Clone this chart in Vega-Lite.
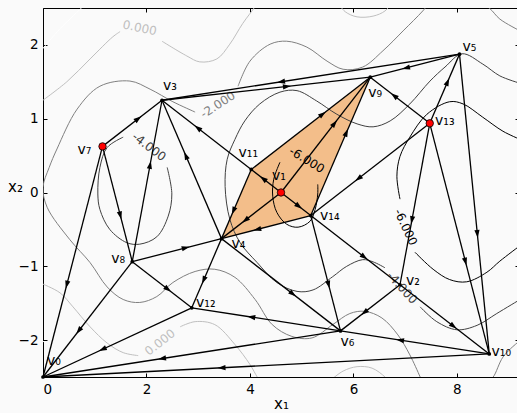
{
  "$schema": "https://vega.github.io/schema/vega-lite/v6.json",
  "width": 476,
  "height": 369,
  "autosize": {"type": "none"},
  "padding": {"left": 43, "top": 8, "right": 0, "bottom": 36},
  "background": "#fafafa",
  "config": {
    "view": {"stroke": "#000000", "strokeWidth": 1, "fill": "#fafafa"},
    "font": "DejaVu Sans",
    "axis": {
      "grid": false, "domain": false, "tickColor": "#000000", "tickSize": -4, "tickWidth": 1,
      "labelColor": "#000000", "labelFont": "DejaVu Sans", "labelFontSize": 13.5, "labelPadding": 9,
      "titleFont": "DejaVu Sans", "titleFontWeight": "normal", "titleColor": "#000000", "titleFontSize": 15
    }
  },
  "datasets": {
    "nodes": [
      {"id": "v0", "x": 0, "y": -2.5, "name": "v₀", "kind": "plain"},
      {"id": "v1", "x": 4.6, "y": 0, "name": "v₁", "kind": "marked"},
      {"id": "v2", "x": 6.9, "y": -1.25, "name": "v₂", "kind": "plain"},
      {"id": "v3", "x": 2.3, "y": 1.25, "name": "v₃", "kind": "plain"},
      {"id": "v4", "x": 3.45, "y": -0.625, "name": "v₄", "kind": "plain"},
      {"id": "v5", "x": 8.05, "y": 1.875, "name": "v₅", "kind": "plain"},
      {"id": "v6", "x": 5.75, "y": -1.875, "name": "v₆", "kind": "plain"},
      {"id": "v7", "x": 1.15, "y": 0.625, "name": "v₇", "kind": "marked"},
      {"id": "v8", "x": 1.725, "y": -0.9375, "name": "v₈", "kind": "plain"},
      {"id": "v9", "x": 6.325, "y": 1.5625, "name": "v₉", "kind": "plain"},
      {"id": "v10", "x": 8.625, "y": -2.1875, "name": "v₁₀", "kind": "plain"},
      {"id": "v11", "x": 4.025, "y": 0.3125, "name": "v₁₁", "kind": "plain"},
      {"id": "v12", "x": 2.875, "y": -1.5625, "name": "v₁₂", "kind": "plain"},
      {"id": "v13", "x": 7.475, "y": 0.9375, "name": "v₁₃", "kind": "marked"},
      {"id": "v14", "x": 5.175, "y": -0.3125, "name": "v₁₄", "kind": "plain"}
    ],
    "edges": [
      {"s": "v7", "t": "v3"}, {"s": "v8", "t": "v3"}, {"s": "v4", "t": "v3"}, {"s": "v11", "t": "v3"},
      {"s": "v5", "t": "v3"}, {"s": "v3", "t": "v9"}, {"s": "v5", "t": "v9"}, {"s": "v13", "t": "v9"},
      {"s": "v13", "t": "v5"}, {"s": "v5", "t": "v10"}, {"s": "v13", "t": "v10"}, {"s": "v13", "t": "v2"},
      {"s": "v13", "t": "v14"}, {"s": "v14", "t": "v2"}, {"s": "v2", "t": "v10"}, {"s": "v2", "t": "v6"},
      {"s": "v10", "t": "v6"}, {"s": "v10", "t": "v0"}, {"s": "v6", "t": "v0"}, {"s": "v12", "t": "v0"},
      {"s": "v8", "t": "v0"}, {"s": "v7", "t": "v0"}, {"s": "v7", "t": "v8"}, {"s": "v8", "t": "v4"},
      {"s": "v8", "t": "v12"}, {"s": "v4", "t": "v12"}, {"s": "v6", "t": "v12"}, {"s": "v4", "t": "v6"},
      {"s": "v14", "t": "v6"}, {"s": "v1", "t": "v4"}, {"s": "v14", "t": "v4"}, {"s": "v1", "t": "v11"},
      {"s": "v1", "t": "v14"}, {"s": "v11", "t": "v9"}, {"s": "v1", "t": "v9"}, {"s": "v14", "t": "v9"},
      {"s": "v11", "t": "v4"}
    ],
    "region": [
      {"id": "v4", "k": 0}, {"id": "v11", "k": 1}, {"id": "v9", "k": 2}, {"id": "v14", "k": 3}
    ],
    "clab": [
      {"k": "a", "text": "0.000", "lv": 0, "x": 1.87, "y": 2.23},
      {"k": "b", "text": "0.000", "lv": 0, "x": 2.26, "y": -2.03},
      {"k": "c", "text": "-2.000", "lv": -2, "x": 3.38, "y": 1.19},
      {"k": "d", "text": "-4.000", "lv": -4, "x": 2.05, "y": 0.62},
      {"k": "e", "text": "-4.000", "lv": -4, "x": 6.94, "y": -1.29},
      {"k": "f", "text": "-6.000", "lv": -6, "x": 5.1, "y": 0.44},
      {"k": "g", "text": "-6.000", "lv": -6, "x": 7.01, "y": -0.47}
    ],
    "contours": [
      {"c": "p2a", "lv": 2, "i": 0, "x": -0.04, "y": 1.92},
      {"c": "p2a", "lv": 2, "i": 1, "x": 0.33, "y": 2.22},
      {"c": "p2a", "lv": 2, "i": 2, "x": 0.52, "y": 2.35},
      {"c": "p2a", "lv": 2, "i": 3, "x": 0.77, "y": 2.52},
      {"c": "p2a", "lv": 2, "i": 4, "x": 0.85, "y": 2.58},

      {"c": "p2b", "lv": 2, "i": 0, "x": -0.04, "y": -2.0},
      {"c": "p2b", "lv": 2, "i": 1, "x": 0.27, "y": -2.13},
      {"c": "p2b", "lv": 2, "i": 2, "x": 0.58, "y": -2.29},
      {"c": "p2b", "lv": 2, "i": 3, "x": 0.75, "y": -2.5},
      {"c": "p2b", "lv": 2, "i": 4, "x": 0.79, "y": -2.55},

      {"c": "z0a", "lv": 0, "i": 0, "x": -0.04, "y": 1.23},
      {"c": "z0a", "lv": 0, "i": 1, "x": 0.46, "y": 1.5},
      {"c": "z0a", "lv": 0, "i": 2, "x": 0.91, "y": 1.81},
      {"c": "z0a", "lv": 0, "i": 3, "x": 1.35, "y": 2.11},
      {"c": "z0a", "lv": 0, "i": 4, "x": 1.49, "y": 2.18},

      {"c": "z0b", "lv": 0, "i": 0, "x": 2.3, "y": 2.05},
      {"c": "z0b", "lv": 0, "i": 1, "x": 2.78, "y": 1.85},
      {"c": "z0b", "lv": 0, "i": 2, "x": 3.03, "y": 1.77},
      {"c": "z0b", "lv": 0, "i": 3, "x": 3.36, "y": 1.81},
      {"c": "z0b", "lv": 0, "i": 4, "x": 3.61, "y": 2.01},
      {"c": "z0b", "lv": 0, "i": 5, "x": 3.86, "y": 2.29},
      {"c": "z0b", "lv": 0, "i": 6, "x": 4.1, "y": 2.52},
      {"c": "z0b", "lv": 0, "i": 7, "x": 4.15, "y": 2.58},

      {"c": "z0c", "lv": 0, "i": 0, "x": 5.7, "y": 2.57},
      {"c": "z0c", "lv": 0, "i": 1, "x": 5.84, "y": 2.45},
      {"c": "z0c", "lv": 0, "i": 2, "x": 6.07, "y": 2.38},
      {"c": "z0c", "lv": 0, "i": 3, "x": 6.38, "y": 2.39},
      {"c": "z0c", "lv": 0, "i": 4, "x": 6.61, "y": 2.46},
      {"c": "z0c", "lv": 0, "i": 5, "x": 6.74, "y": 2.57},

      {"c": "z0d", "lv": 0, "i": 0, "x": -0.04, "y": -1.23},
      {"c": "z0d", "lv": 0, "i": 1, "x": 0.33, "y": -1.36},
      {"c": "z0d", "lv": 0, "i": 2, "x": 0.58, "y": -1.55},
      {"c": "z0d", "lv": 0, "i": 3, "x": 0.91, "y": -1.82},
      {"c": "z0d", "lv": 0, "i": 4, "x": 1.24, "y": -2.04},
      {"c": "z0d", "lv": 0, "i": 5, "x": 1.55, "y": -2.17},
      {"c": "z0d", "lv": 0, "i": 6, "x": 1.84, "y": -2.21},

      {"c": "z0e", "lv": 0, "i": 0, "x": 2.65, "y": -1.82},
      {"c": "z0e", "lv": 0, "i": 1, "x": 2.94, "y": -1.75},
      {"c": "z0e", "lv": 0, "i": 2, "x": 3.32, "y": -1.79},
      {"c": "z0e", "lv": 0, "i": 3, "x": 3.71, "y": -2.06},
      {"c": "z0e", "lv": 0, "i": 4, "x": 4.0, "y": -2.33},
      {"c": "z0e", "lv": 0, "i": 5, "x": 4.14, "y": -2.5},
      {"c": "z0e", "lv": 0, "i": 6, "x": 4.19, "y": -2.55},

      {"c": "z0f", "lv": 0, "i": 0, "x": 5.55, "y": -2.55},
      {"c": "z0f", "lv": 0, "i": 1, "x": 5.8, "y": -2.42},
      {"c": "z0f", "lv": 0, "i": 2, "x": 6.07, "y": -2.36},
      {"c": "z0f", "lv": 0, "i": 3, "x": 6.36, "y": -2.38},
      {"c": "z0f", "lv": 0, "i": 4, "x": 6.61, "y": -2.5},
      {"c": "z0f", "lv": 0, "i": 5, "x": 6.67, "y": -2.55},

      {"c": "m2a", "lv": -2, "i": 0, "x": 2.94, "y": 1.09},
      {"c": "m2a", "lv": -2, "i": 1, "x": 2.51, "y": 1.23},
      {"c": "m2a", "lv": -2, "i": 2, "x": 2.07, "y": 1.4},
      {"c": "m2a", "lv": -2, "i": 3, "x": 1.68, "y": 1.51},
      {"c": "m2a", "lv": -2, "i": 4, "x": 1.1, "y": 1.44},
      {"c": "m2a", "lv": -2, "i": 5, "x": 0.66, "y": 1.13},
      {"c": "m2a", "lv": -2, "i": 6, "x": 0.27, "y": 0.59},
      {"c": "m2a", "lv": -2, "i": 7, "x": 0.12, "y": 0.34},
      {"c": "m2a", "lv": -2, "i": 8, "x": 0.0, "y": 0.07},
      {"c": "m2a", "lv": -2, "i": 9, "x": 0.08, "y": -0.2},
      {"c": "m2a", "lv": -2, "i": 10, "x": 0.52, "y": -0.64},
      {"c": "m2a", "lv": -2, "i": 11, "x": 0.91, "y": -0.95},
      {"c": "m2a", "lv": -2, "i": 12, "x": 1.24, "y": -1.28},
      {"c": "m2a", "lv": -2, "i": 13, "x": 1.55, "y": -1.45},
      {"c": "m2a", "lv": -2, "i": 14, "x": 1.87, "y": -1.49},
      {"c": "m2a", "lv": -2, "i": 15, "x": 2.2, "y": -1.41},
      {"c": "m2a", "lv": -2, "i": 16, "x": 2.51, "y": -1.22},
      {"c": "m2a", "lv": -2, "i": 17, "x": 2.94, "y": -1.07},
      {"c": "m2a", "lv": -2, "i": 18, "x": 3.32, "y": -1.04},
      {"c": "m2a", "lv": -2, "i": 19, "x": 3.71, "y": -1.15},
      {"c": "m2a", "lv": -2, "i": 20, "x": 4.1, "y": -1.45},
      {"c": "m2a", "lv": -2, "i": 21, "x": 4.43, "y": -1.79},
      {"c": "m2a", "lv": -2, "i": 22, "x": 4.81, "y": -1.95},
      {"c": "m2a", "lv": -2, "i": 23, "x": 5.2, "y": -1.97},
      {"c": "m2a", "lv": -2, "i": 24, "x": 5.6, "y": -1.79},
      {"c": "m2a", "lv": -2, "i": 25, "x": 5.93, "y": -1.64},
      {"c": "m2a", "lv": -2, "i": 26, "x": 6.22, "y": -1.61},
      {"c": "m2a", "lv": -2, "i": 27, "x": 6.55, "y": -1.7},
      {"c": "m2a", "lv": -2, "i": 28, "x": 6.86, "y": -1.93},
      {"c": "m2a", "lv": -2, "i": 29, "x": 7.09, "y": -2.2},
      {"c": "m2a", "lv": -2, "i": 30, "x": 7.29, "y": -2.5},
      {"c": "m2a", "lv": -2, "i": 31, "x": 7.34, "y": -2.58},

      {"c": "m2b", "lv": -2, "i": 0, "x": 3.77, "y": 1.44},
      {"c": "m2b", "lv": -2, "i": 1, "x": 4.0, "y": 1.78},
      {"c": "m2b", "lv": -2, "i": 2, "x": 4.39, "y": 2.01},
      {"c": "m2b", "lv": -2, "i": 3, "x": 4.71, "y": 2.05},
      {"c": "m2b", "lv": -2, "i": 4, "x": 5.1, "y": 1.97},
      {"c": "m2b", "lv": -2, "i": 5, "x": 5.49, "y": 1.78},
      {"c": "m2b", "lv": -2, "i": 6, "x": 5.8, "y": 1.67},
      {"c": "m2b", "lv": -2, "i": 7, "x": 6.18, "y": 1.7},
      {"c": "m2b", "lv": -2, "i": 8, "x": 6.57, "y": 1.92},
      {"c": "m2b", "lv": -2, "i": 9, "x": 6.96, "y": 2.19},
      {"c": "m2b", "lv": -2, "i": 10, "x": 7.34, "y": 2.46},
      {"c": "m2b", "lv": -2, "i": 11, "x": 7.48, "y": 2.58},

      {"c": "m2c", "lv": -2, "i": 0, "x": 8.44, "y": 2.58},
      {"c": "m2c", "lv": -2, "i": 1, "x": 8.64, "y": 2.49},
      {"c": "m2c", "lv": -2, "i": 2, "x": 8.83, "y": 2.35},
      {"c": "m2c", "lv": -2, "i": 3, "x": 9.22, "y": 2.19},

      {"c": "m2d", "lv": -2, "i": 0, "x": 8.6, "y": -2.55},
      {"c": "m2d", "lv": -2, "i": 1, "x": 8.7, "y": -2.5},
      {"c": "m2d", "lv": -2, "i": 2, "x": 8.89, "y": -2.23},
      {"c": "m2d", "lv": -2, "i": 3, "x": 9.16, "y": -2.04},
      {"c": "m2d", "lv": -2, "i": 4, "x": 9.22, "y": -2.01},

      {"c": "m4a", "lv": -4, "i": 0, "x": 9.22, "y": 1.48},
      {"c": "m4a", "lv": -4, "i": 1, "x": 8.83, "y": 1.58},
      {"c": "m4a", "lv": -4, "i": 2, "x": 8.5, "y": 1.74},
      {"c": "m4a", "lv": -4, "i": 3, "x": 8.1, "y": 1.88},
      {"c": "m4a", "lv": -4, "i": 4, "x": 7.77, "y": 1.7},
      {"c": "m4a", "lv": -4, "i": 5, "x": 7.48, "y": 1.51},
      {"c": "m4a", "lv": -4, "i": 6, "x": 7.09, "y": 1.2},
      {"c": "m4a", "lv": -4, "i": 7, "x": 6.71, "y": 0.97},
      {"c": "m4a", "lv": -4, "i": 8, "x": 6.38, "y": 0.89},
      {"c": "m4a", "lv": -4, "i": 9, "x": 6.07, "y": 0.93},
      {"c": "m4a", "lv": -4, "i": 10, "x": 5.68, "y": 1.06},
      {"c": "m4a", "lv": -4, "i": 11, "x": 5.29, "y": 1.24},
      {"c": "m4a", "lv": -4, "i": 12, "x": 4.91, "y": 1.38},
      {"c": "m4a", "lv": -4, "i": 13, "x": 4.58, "y": 1.36},
      {"c": "m4a", "lv": -4, "i": 14, "x": 4.19, "y": 1.2},
      {"c": "m4a", "lv": -4, "i": 15, "x": 3.9, "y": 0.97},
      {"c": "m4a", "lv": -4, "i": 16, "x": 3.71, "y": 0.72},
      {"c": "m4a", "lv": -4, "i": 17, "x": 3.56, "y": 0.45},
      {"c": "m4a", "lv": -4, "i": 18, "x": 3.52, "y": 0.08},
      {"c": "m4a", "lv": -4, "i": 19, "x": 3.61, "y": -0.36},
      {"c": "m4a", "lv": -4, "i": 20, "x": 3.81, "y": -0.68},
      {"c": "m4a", "lv": -4, "i": 21, "x": 4.14, "y": -0.95},
      {"c": "m4a", "lv": -4, "i": 22, "x": 4.52, "y": -1.22},
      {"c": "m4a", "lv": -4, "i": 23, "x": 4.91, "y": -1.34},
      {"c": "m4a", "lv": -4, "i": 24, "x": 5.22, "y": -1.32},
      {"c": "m4a", "lv": -4, "i": 25, "x": 5.6, "y": -1.14},
      {"c": "m4a", "lv": -4, "i": 26, "x": 5.87, "y": -1.0},
      {"c": "m4a", "lv": -4, "i": 27, "x": 6.18, "y": -0.91},
      {"c": "m4a", "lv": -4, "i": 28, "x": 6.38, "y": -0.94},
      {"c": "m4a", "lv": -4, "i": 29, "x": 6.61, "y": -1.02},

      {"c": "m4b", "lv": -4, "i": 0, "x": 7.29, "y": -1.55},
      {"c": "m4b", "lv": -4, "i": 1, "x": 7.61, "y": -1.75},
      {"c": "m4b", "lv": -4, "i": 2, "x": 8.0, "y": -1.86},
      {"c": "m4b", "lv": -4, "i": 3, "x": 8.39, "y": -1.8},
      {"c": "m4b", "lv": -4, "i": 4, "x": 8.77, "y": -1.64},
      {"c": "m4b", "lv": -4, "i": 5, "x": 9.22, "y": -1.45},

      {"c": "m4c", "lv": -4, "i": 0, "x": 2.4, "y": 0.34},
      {"c": "m4c", "lv": -4, "i": 1, "x": 2.49, "y": -0.02},
      {"c": "m4c", "lv": -4, "i": 2, "x": 2.42, "y": -0.32},
      {"c": "m4c", "lv": -4, "i": 3, "x": 2.2, "y": -0.6},
      {"c": "m4c", "lv": -4, "i": 4, "x": 1.87, "y": -0.7},
      {"c": "m4c", "lv": -4, "i": 5, "x": 1.62, "y": -0.68},
      {"c": "m4c", "lv": -4, "i": 6, "x": 1.29, "y": -0.5},
      {"c": "m4c", "lv": -4, "i": 7, "x": 1.1, "y": -0.23},
      {"c": "m4c", "lv": -4, "i": 8, "x": 1.06, "y": -0.02},
      {"c": "m4c", "lv": -4, "i": 9, "x": 1.1, "y": 0.34},
      {"c": "m4c", "lv": -4, "i": 10, "x": 1.24, "y": 0.61},
      {"c": "m4c", "lv": -4, "i": 11, "x": 1.55, "y": 0.75},

      {"c": "m6a", "lv": -6, "i": 0, "x": 4.58, "y": 0.41},
      {"c": "m6a", "lv": -6, "i": 1, "x": 4.46, "y": 0.18},
      {"c": "m6a", "lv": -6, "i": 2, "x": 4.44, "y": -0.05},
      {"c": "m6a", "lv": -6, "i": 3, "x": 4.52, "y": -0.27},
      {"c": "m6a", "lv": -6, "i": 4, "x": 4.71, "y": -0.43},
      {"c": "m6a", "lv": -6, "i": 5, "x": 4.93, "y": -0.47},
      {"c": "m6a", "lv": -6, "i": 6, "x": 5.16, "y": -0.39},
      {"c": "m6a", "lv": -6, "i": 7, "x": 5.26, "y": -0.23},
      {"c": "m6a", "lv": -6, "i": 8, "x": 5.31, "y": -0.02},
      {"c": "m6a", "lv": -6, "i": 9, "x": 5.31, "y": 0.11},

      {"c": "m6b", "lv": -6, "i": 0, "x": 9.22, "y": 0.72},
      {"c": "m6b", "lv": -6, "i": 1, "x": 8.89, "y": 0.83},
      {"c": "m6b", "lv": -6, "i": 2, "x": 8.5, "y": 1.02},
      {"c": "m6b", "lv": -6, "i": 3, "x": 8.12, "y": 1.2},
      {"c": "m6b", "lv": -6, "i": 4, "x": 7.86, "y": 1.23},
      {"c": "m6b", "lv": -6, "i": 5, "x": 7.42, "y": 1.06},
      {"c": "m6b", "lv": -6, "i": 6, "x": 7.09, "y": 0.75},
      {"c": "m6b", "lv": -6, "i": 7, "x": 6.9, "y": 0.49},
      {"c": "m6b", "lv": -6, "i": 8, "x": 6.84, "y": 0.22},
      {"c": "m6b", "lv": -6, "i": 9, "x": 6.9, "y": -0.09},

      {"c": "m6c", "lv": -6, "i": 0, "x": 7.19, "y": -0.81},
      {"c": "m6c", "lv": -6, "i": 1, "x": 7.54, "y": -1.04},
      {"c": "m6c", "lv": -6, "i": 2, "x": 7.86, "y": -1.18},
      {"c": "m6c", "lv": -6, "i": 3, "x": 8.19, "y": -1.21},
      {"c": "m6c", "lv": -6, "i": 4, "x": 8.58, "y": -1.08},
      {"c": "m6c", "lv": -6, "i": 5, "x": 8.83, "y": -0.93},
      {"c": "m6c", "lv": -6, "i": 6, "x": 9.22, "y": -0.72}
    ]
  },
  "resolve": {"axis": {"x": "independent", "y": "independent"}},
  "layer": [
    {
      "data": {"name": "region"},
      "transform": [{"lookup": "id", "from": {"data": {"name": "nodes"}, "key": "id", "fields": ["x", "y"]}}],
      "mark": {"type": "line", "fill": "#f3be8a", "fillOpacity": 1, "strokeOpacity": 0, "interpolate": "linear-closed"},
      "encoding": {
        "x": {"field": "x", "type": "quantitative", "scale": {"domain": [0, 9.2], "nice": false, "zero": false},
              "axis": {"orient": "bottom", "values": [0, 2, 4, 6, 8], "title": "x₁", "titleY": 31, "titleBaseline": "alphabetic"}},
        "y": {"field": "y", "type": "quantitative", "scale": {"domain": [-2.5, 2.5], "nice": false, "zero": false},
              "axis": {"orient": "left", "values": [-2, -1, 0, 1, 2], "title": "x₂", "titleAngle": 0, "titleX": -28, "titleY": 183, "titleAlign": "center", "titleBaseline": "alphabetic"}},
        "order": {"field": "k", "type": "quantitative"}
      }
    },
    {
      "data": {"name": "contours"},
      "mark": {"type": "line", "strokeWidth": 1, "interpolate": "catmull-rom", "clip": true},
      "encoding": {
        "x": {"field": "x", "type": "quantitative", "scale": {"domain": [0, 9.2], "nice": false, "zero": false},
              "axis": {"orient": "top", "values": [0, 2, 4, 6, 8], "labels": false, "title": null}},
        "y": {"field": "y", "type": "quantitative", "scale": {"domain": [-2.5, 2.5], "nice": false, "zero": false},
              "axis": {"orient": "right", "values": [-2, -1, 0, 1, 2], "labels": false, "title": null}},
        "detail": {"field": "c"},
        "order": {"field": "i", "type": "quantitative"},
        "color": {"field": "lv", "type": "ordinal", "scale": {"domain": [-6, -4, -2, 0, 2], "range": ["#000000", "#404040", "#808080", "#bfbfbf", "#ffffff"]}, "legend": null}
      }
    },
    {
      "data": {"name": "clab"},
      "transform": [{"filter": "datum.k == 'a'"}],
      "mark": {"type": "text", "angle": 12, "fontSize": 12, "align": "center", "baseline": "middle"},
      "encoding": {
        "x": {"field": "x", "type": "quantitative", "scale": {"domain": [0, 9.2], "nice": false, "zero": false}, "axis": null},
        "y": {"field": "y", "type": "quantitative", "scale": {"domain": [-2.5, 2.5], "nice": false, "zero": false}, "axis": null},
        "text": {"field": "text"},
        "color": {"field": "lv", "type": "ordinal", "legend": null}
      }
    },
    {
      "data": {"name": "clab"},
      "transform": [{"filter": "datum.k == 'b'"}],
      "mark": {"type": "text", "angle": -38, "fontSize": 12, "align": "center", "baseline": "middle"},
      "encoding": {
        "x": {"field": "x", "type": "quantitative", "scale": {"domain": [0, 9.2], "nice": false, "zero": false}, "axis": null},
        "y": {"field": "y", "type": "quantitative", "scale": {"domain": [-2.5, 2.5], "nice": false, "zero": false}, "axis": null},
        "text": {"field": "text"},
        "color": {"field": "lv", "type": "ordinal", "legend": null}
      }
    },
    {
      "data": {"name": "clab"},
      "transform": [{"filter": "datum.k == 'c'"}],
      "mark": {"type": "text", "angle": -33, "fontSize": 12, "align": "center", "baseline": "middle"},
      "encoding": {
        "x": {"field": "x", "type": "quantitative", "scale": {"domain": [0, 9.2], "nice": false, "zero": false}, "axis": null},
        "y": {"field": "y", "type": "quantitative", "scale": {"domain": [-2.5, 2.5], "nice": false, "zero": false}, "axis": null},
        "text": {"field": "text"},
        "color": {"field": "lv", "type": "ordinal", "legend": null}
      }
    },
    {
      "data": {"name": "clab"},
      "transform": [{"filter": "datum.k == 'd'"}],
      "mark": {"type": "text", "angle": 37, "fontSize": 12, "align": "center", "baseline": "middle"},
      "encoding": {
        "x": {"field": "x", "type": "quantitative", "scale": {"domain": [0, 9.2], "nice": false, "zero": false}, "axis": null},
        "y": {"field": "y", "type": "quantitative", "scale": {"domain": [-2.5, 2.5], "nice": false, "zero": false}, "axis": null},
        "text": {"field": "text"},
        "color": {"field": "lv", "type": "ordinal", "legend": null}
      }
    },
    {
      "data": {"name": "clab"},
      "transform": [{"filter": "datum.k == 'e'"}],
      "mark": {"type": "text", "angle": 48, "fontSize": 12, "align": "center", "baseline": "middle"},
      "encoding": {
        "x": {"field": "x", "type": "quantitative", "scale": {"domain": [0, 9.2], "nice": false, "zero": false}, "axis": null},
        "y": {"field": "y", "type": "quantitative", "scale": {"domain": [-2.5, 2.5], "nice": false, "zero": false}, "axis": null},
        "text": {"field": "text"},
        "color": {"field": "lv", "type": "ordinal", "legend": null}
      }
    },
    {
      "data": {"name": "clab"},
      "transform": [{"filter": "datum.k == 'f'"}],
      "mark": {"type": "text", "angle": 32, "fontSize": 12, "align": "center", "baseline": "middle"},
      "encoding": {
        "x": {"field": "x", "type": "quantitative", "scale": {"domain": [0, 9.2], "nice": false, "zero": false}, "axis": null},
        "y": {"field": "y", "type": "quantitative", "scale": {"domain": [-2.5, 2.5], "nice": false, "zero": false}, "axis": null},
        "text": {"field": "text"},
        "color": {"field": "lv", "type": "ordinal", "legend": null}
      }
    },
    {
      "data": {"name": "clab"},
      "transform": [{"filter": "datum.k == 'g'"}],
      "mark": {"type": "text", "angle": 65, "fontSize": 12, "align": "center", "baseline": "middle"},
      "encoding": {
        "x": {"field": "x", "type": "quantitative", "scale": {"domain": [0, 9.2], "nice": false, "zero": false}, "axis": null},
        "y": {"field": "y", "type": "quantitative", "scale": {"domain": [-2.5, 2.5], "nice": false, "zero": false}, "axis": null},
        "text": {"field": "text"},
        "color": {"field": "lv", "type": "ordinal", "legend": null}
      }
    },
    {
      "data": {"name": "edges"},
      "transform": [
        {"lookup": "s", "from": {"data": {"name": "nodes"}, "key": "id", "fields": ["x", "y"]}, "as": ["sx", "sy"]},
        {"lookup": "t", "from": {"data": {"name": "nodes"}, "key": "id", "fields": ["x", "y"]}, "as": ["tx", "ty"]}
      ],
      "mark": {"type": "rule", "color": "#000000", "strokeWidth": 1.3},
      "encoding": {
        "x": {"field": "sx", "type": "quantitative", "scale": {"domain": [0, 9.2], "nice": false, "zero": false}, "axis": null},
        "y": {"field": "sy", "type": "quantitative", "scale": {"domain": [-2.5, 2.5], "nice": false, "zero": false}, "axis": null},
        "x2": {"field": "tx"},
        "y2": {"field": "ty"}
      }
    },
    {
      "data": {"name": "edges"},
      "transform": [
        {"lookup": "s", "from": {"data": {"name": "nodes"}, "key": "id", "fields": ["x", "y"]}, "as": ["sx", "sy"]},
        {"lookup": "t", "from": {"data": {"name": "nodes"}, "key": "id", "fields": ["x", "y"]}, "as": ["tx", "ty"]},
        {"calculate": "datum.sx + 0.6 * (datum.tx - datum.sx)", "as": "mx"},
        {"calculate": "datum.sy + 0.6 * (datum.ty - datum.sy)", "as": "my"},
        {"calculate": "atan2(-(datum.ty - datum.sy) * 73.8, (datum.tx - datum.sx) * 51.74) * 180 / PI", "as": "heading"}
      ],
      "mark": {"type": "point", "shape": "M1,0L-1,-0.65L-1,0.65Z", "filled": true, "color": "#000000", "size": 64, "opacity": 1},
      "encoding": {
        "x": {"field": "mx", "type": "quantitative", "scale": {"domain": [0, 9.2], "nice": false, "zero": false}, "axis": null},
        "y": {"field": "my", "type": "quantitative", "scale": {"domain": [-2.5, 2.5], "nice": false, "zero": false}, "axis": null},
        "angle": {"field": "heading", "type": "quantitative", "scale": null}
      }
    },
    {
      "data": {"name": "nodes"},
      "transform": [{"filter": "datum.kind == 'plain'"}],
      "mark": {"type": "point", "shape": "circle", "filled": true, "color": "#000000", "size": 14, "opacity": 1},
      "encoding": {
        "x": {"field": "x", "type": "quantitative", "scale": {"domain": [0, 9.2], "nice": false, "zero": false}, "axis": null},
        "y": {"field": "y", "type": "quantitative", "scale": {"domain": [-2.5, 2.5], "nice": false, "zero": false}, "axis": null}
      }
    },
    {
      "data": {"name": "nodes"},
      "transform": [{"filter": "datum.kind == 'marked'"}],
      "mark": {"type": "point", "shape": "circle", "filled": true, "fill": "#ff0000", "stroke": "#000000", "strokeWidth": 0.8, "size": 55, "opacity": 1},
      "encoding": {
        "x": {"field": "x", "type": "quantitative", "scale": {"domain": [0, 9.2], "nice": false, "zero": false}, "axis": null},
        "y": {"field": "y", "type": "quantitative", "scale": {"domain": [-2.5, 2.5], "nice": false, "zero": false}, "axis": null}
      }
    },
    {"data": {"name": "nodes"}, "transform": [{"filter": "datum.id == 'v0'"}], "mark": {"type": "text", "dx": 11, "dy": -16, "fontSize": 14, "align": "center", "baseline": "middle", "color": "#000000"},
     "encoding": {"x": {"field": "x", "type": "quantitative", "scale": {"domain": [0, 9.2], "nice": false, "zero": false}, "axis": null}, "y": {"field": "y", "type": "quantitative", "scale": {"domain": [-2.5, 2.5], "nice": false, "zero": false}, "axis": null}, "text": {"field": "name"}}},
    {"data": {"name": "nodes"}, "transform": [{"filter": "datum.id == 'v1'"}], "mark": {"type": "text", "dx": -2, "dy": -17, "fontSize": 14, "align": "center", "baseline": "middle", "color": "#000000"},
     "encoding": {"x": {"field": "x", "type": "quantitative", "scale": {"domain": [0, 9.2], "nice": false, "zero": false}, "axis": null}, "y": {"field": "y", "type": "quantitative", "scale": {"domain": [-2.5, 2.5], "nice": false, "zero": false}, "axis": null}, "text": {"field": "name"}}},
    {"data": {"name": "nodes"}, "transform": [{"filter": "datum.id == 'v2'"}], "mark": {"type": "text", "dx": 13, "dy": -4, "fontSize": 14, "align": "center", "baseline": "middle", "color": "#000000"},
     "encoding": {"x": {"field": "x", "type": "quantitative", "scale": {"domain": [0, 9.2], "nice": false, "zero": false}, "axis": null}, "y": {"field": "y", "type": "quantitative", "scale": {"domain": [-2.5, 2.5], "nice": false, "zero": false}, "axis": null}, "text": {"field": "name"}}},
    {"data": {"name": "nodes"}, "transform": [{"filter": "datum.id == 'v3'"}], "mark": {"type": "text", "dx": 8, "dy": -14, "fontSize": 14, "align": "center", "baseline": "middle", "color": "#000000"},
     "encoding": {"x": {"field": "x", "type": "quantitative", "scale": {"domain": [0, 9.2], "nice": false, "zero": false}, "axis": null}, "y": {"field": "y", "type": "quantitative", "scale": {"domain": [-2.5, 2.5], "nice": false, "zero": false}, "axis": null}, "text": {"field": "name"}}},
    {"data": {"name": "nodes"}, "transform": [{"filter": "datum.id == 'v4'"}], "mark": {"type": "text", "dx": 17, "dy": 5, "fontSize": 14, "align": "center", "baseline": "middle", "color": "#000000"},
     "encoding": {"x": {"field": "x", "type": "quantitative", "scale": {"domain": [0, 9.2], "nice": false, "zero": false}, "axis": null}, "y": {"field": "y", "type": "quantitative", "scale": {"domain": [-2.5, 2.5], "nice": false, "zero": false}, "axis": null}, "text": {"field": "name"}}},
    {"data": {"name": "nodes"}, "transform": [{"filter": "datum.id == 'v5'"}], "mark": {"type": "text", "dx": 10, "dy": -7, "fontSize": 14, "align": "center", "baseline": "middle", "color": "#000000"},
     "encoding": {"x": {"field": "x", "type": "quantitative", "scale": {"domain": [0, 9.2], "nice": false, "zero": false}, "axis": null}, "y": {"field": "y", "type": "quantitative", "scale": {"domain": [-2.5, 2.5], "nice": false, "zero": false}, "axis": null}, "text": {"field": "name"}}},
    {"data": {"name": "nodes"}, "transform": [{"filter": "datum.id == 'v6'"}], "mark": {"type": "text", "dx": 7, "dy": 11, "fontSize": 14, "align": "center", "baseline": "middle", "color": "#000000"},
     "encoding": {"x": {"field": "x", "type": "quantitative", "scale": {"domain": [0, 9.2], "nice": false, "zero": false}, "axis": null}, "y": {"field": "y", "type": "quantitative", "scale": {"domain": [-2.5, 2.5], "nice": false, "zero": false}, "axis": null}, "text": {"field": "name"}}},
    {"data": {"name": "nodes"}, "transform": [{"filter": "datum.id == 'v7'"}], "mark": {"type": "text", "dx": -18, "dy": 4, "fontSize": 14, "align": "center", "baseline": "middle", "color": "#000000"},
     "encoding": {"x": {"field": "x", "type": "quantitative", "scale": {"domain": [0, 9.2], "nice": false, "zero": false}, "axis": null}, "y": {"field": "y", "type": "quantitative", "scale": {"domain": [-2.5, 2.5], "nice": false, "zero": false}, "axis": null}, "text": {"field": "name"}}},
    {"data": {"name": "nodes"}, "transform": [{"filter": "datum.id == 'v8'"}], "mark": {"type": "text", "dx": -14, "dy": -3, "fontSize": 14, "align": "center", "baseline": "middle", "color": "#000000"},
     "encoding": {"x": {"field": "x", "type": "quantitative", "scale": {"domain": [0, 9.2], "nice": false, "zero": false}, "axis": null}, "y": {"field": "y", "type": "quantitative", "scale": {"domain": [-2.5, 2.5], "nice": false, "zero": false}, "axis": null}, "text": {"field": "name"}}},
    {"data": {"name": "nodes"}, "transform": [{"filter": "datum.id == 'v9'"}], "mark": {"type": "text", "dx": 5, "dy": 16, "fontSize": 14, "align": "center", "baseline": "middle", "color": "#000000"},
     "encoding": {"x": {"field": "x", "type": "quantitative", "scale": {"domain": [0, 9.2], "nice": false, "zero": false}, "axis": null}, "y": {"field": "y", "type": "quantitative", "scale": {"domain": [-2.5, 2.5], "nice": false, "zero": false}, "axis": null}, "text": {"field": "name"}}},
    {"data": {"name": "nodes"}, "transform": [{"filter": "datum.id == 'v10'"}], "mark": {"type": "text", "dx": 12, "dy": -2, "fontSize": 14, "align": "center", "baseline": "middle", "color": "#000000"},
     "encoding": {"x": {"field": "x", "type": "quantitative", "scale": {"domain": [0, 9.2], "nice": false, "zero": false}, "axis": null}, "y": {"field": "y", "type": "quantitative", "scale": {"domain": [-2.5, 2.5], "nice": false, "zero": false}, "axis": null}, "text": {"field": "name"}}},
    {"data": {"name": "nodes"}, "transform": [{"filter": "datum.id == 'v11'"}], "mark": {"type": "text", "dx": -3, "dy": -16, "fontSize": 14, "align": "center", "baseline": "middle", "color": "#000000"},
     "encoding": {"x": {"field": "x", "type": "quantitative", "scale": {"domain": [0, 9.2], "nice": false, "zero": false}, "axis": null}, "y": {"field": "y", "type": "quantitative", "scale": {"domain": [-2.5, 2.5], "nice": false, "zero": false}, "axis": null}, "text": {"field": "name"}}},
    {"data": {"name": "nodes"}, "transform": [{"filter": "datum.id == 'v12'"}], "mark": {"type": "text", "dx": 14, "dy": -5, "fontSize": 14, "align": "center", "baseline": "middle", "color": "#000000"},
     "encoding": {"x": {"field": "x", "type": "quantitative", "scale": {"domain": [0, 9.2], "nice": false, "zero": false}, "axis": null}, "y": {"field": "y", "type": "quantitative", "scale": {"domain": [-2.5, 2.5], "nice": false, "zero": false}, "axis": null}, "text": {"field": "name"}}},
    {"data": {"name": "nodes"}, "transform": [{"filter": "datum.id == 'v13'"}], "mark": {"type": "text", "dx": 15, "dy": -2, "fontSize": 14, "align": "center", "baseline": "middle", "color": "#000000"},
     "encoding": {"x": {"field": "x", "type": "quantitative", "scale": {"domain": [0, 9.2], "nice": false, "zero": false}, "axis": null}, "y": {"field": "y", "type": "quantitative", "scale": {"domain": [-2.5, 2.5], "nice": false, "zero": false}, "axis": null}, "text": {"field": "name"}}},
    {"data": {"name": "nodes"}, "transform": [{"filter": "datum.id == 'v14'"}], "mark": {"type": "text", "dx": 19, "dy": 0, "fontSize": 14, "align": "center", "baseline": "middle", "color": "#000000"},
     "encoding": {"x": {"field": "x", "type": "quantitative", "scale": {"domain": [0, 9.2], "nice": false, "zero": false}, "axis": null}, "y": {"field": "y", "type": "quantitative", "scale": {"domain": [-2.5, 2.5], "nice": false, "zero": false}, "axis": null}, "text": {"field": "name"}}}
  ]
}
